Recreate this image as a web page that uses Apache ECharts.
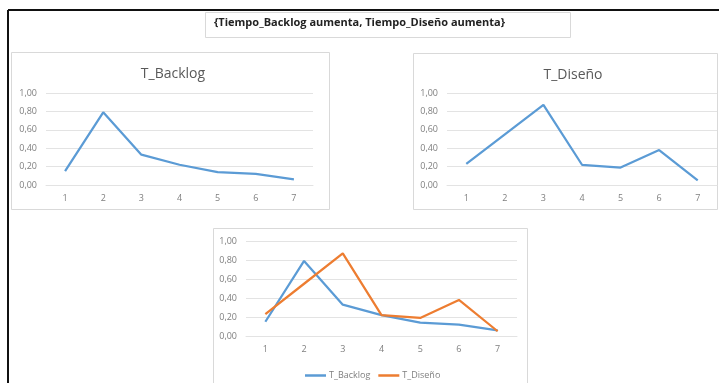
<!DOCTYPE html>
<html>
<head>
<meta charset="utf-8">
<script src="https://cdn.jsdelivr.net/npm/echarts@6/dist/echarts.min.js"></script>
<style>
  html, body { margin: 0; padding: 0; background: #fff; }
  #chart { width: 719px; height: 383px; }
</style>
</head>
<body>
<div id="chart"></div>
<script>
'use strict';

var categories = ['1', '2', '3', '4', '5', '6', '7'];
var tBacklog = [0.15, 0.79, 0.33, 0.22, 0.14, 0.12, 0.06];
var tDiseno = [0.23, 0.55, 0.87, 0.22, 0.19, 0.38, 0.05];
var yTicks = [0, 0.2, 0.4, 0.6, 0.8, 1.0];

var blue = '#5b9bd5';
var orange = '#ed7d31';
var txt = '#7f7f7f';
var gridCol = '#e3e3e3';
var font = 'Open Sans';

function fmt(v) {
  return v.toFixed(2).replace('.', ',');
}

function xAxis(idx) {
  return {
    type: 'category', gridIndex: idx, data: categories, boundaryGap: true,
    axisLine: {lineStyle: {color: gridCol}},
    axisTick: {show: false},
    axisLabel: {color: txt, fontSize: 9, fontFamily: font, margin: 9}
  };
}

function yAxis(idx) {
  return {
    type: 'value', gridIndex: idx, min: yTicks[0], max: yTicks[yTicks.length - 1], interval: 0.2,
    axisLine: {show: false},
    axisTick: {show: false},
    splitLine: {lineStyle: {color: gridCol}},
    axisLabel: {color: txt, fontSize: 9, fontFamily: font, margin: 9, formatter: fmt}
  };
}

function line(name, idx, data, color) {
  return {
    name: name, type: 'line', xAxisIndex: idx, yAxisIndex: idx, data: data,
    symbol: 'none', silent: true,
    lineStyle: {color: color, width: 2.25}, itemStyle: {color: color}
  };
}

function box(x, y, w, h) {
  return {
    type: 'rect', z: -1,
    shape: {x: x, y: y, width: w, height: h},
    style: {fill: '#fff', stroke: '#d9d9d9', lineWidth: 1}
  };
}

var chart = echarts.init(document.getElementById('chart'), null, {renderer: 'canvas'});
var option = {
  animation: false,
  backgroundColor: '#fff',
  graphic: [
    {type: 'line', shape: {x1: 8, y1: 10, x2: 719, y2: 10}, style: {stroke: '#111', lineWidth: 2}},
    {type: 'line', shape: {x1: 8, y1: 10, x2: 8, y2: 383}, style: {stroke: '#111', lineWidth: 2}},
    box(205.5, 12.5, 365, 25),
    {
      type: 'text', left: 214, top: 17,
      style: {
        text: '{Tiempo_Backlog aumenta, Tiempo_Diseño aumenta}',
        fill: '#222', font: 'bold 11px "Open Sans"'
      }
    },
    box(11.5, 52.5, 318, 157),
    box(413.5, 53.5, 304, 156),
    box(213.5, 228.5, 314, 160)
  ],
  title: [
    {text: 'T_Backlog', left: 168, top: 62, textAlign: 'center',
      textStyle: {color: '#595959', fontSize: 14, fontWeight: 'normal', fontFamily: font}},
    {text: 'T_Diseño', left: 568, top: 63, textAlign: 'center',
      textStyle: {color: '#595959', fontSize: 14, fontWeight: 'normal', fontFamily: font}}
  ],
  legend: {
    data: ['T_Backlog', 'T_Diseño'],
    left: 300, top: 366,
    icon: 'rect', itemWidth: 21, itemHeight: 2.5, itemGap: 8,
    textStyle: {color: txt, fontSize: 9, fontFamily: font, padding: [0, 0, 0, -2]},
    selectedMode: false
  },
  grid: [
    {left: 46, top: 93, width: 267, height: 92},
    {left: 447, top: 93, width: 270, height: 92},
    {left: 246, top: 241, width: 271, height: 95}
  ],
  xAxis: [xAxis(0), xAxis(1), xAxis(2)],
  yAxis: [yAxis(0), yAxis(1), yAxis(2)],
  series: [
    line('Backlog_solo', 0, tBacklog, blue),
    line('Diseno_solo', 1, tDiseno, blue),
    line('T_Backlog', 2, tBacklog, blue),
    line('T_Diseño', 2, tDiseno, orange)
  ]
};
chart.setOption(option);
</script>
</body>
</html>
